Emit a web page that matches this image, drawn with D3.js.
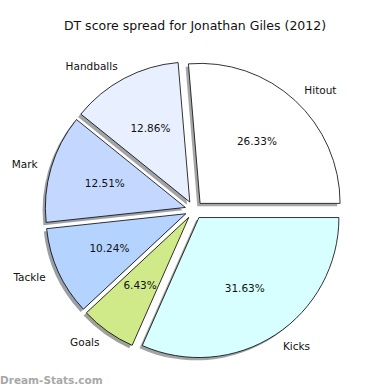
<!DOCTYPE html>
<html><head><meta charset="utf-8">
<script src="https://cdn.jsdelivr.net/npm/d3@7"></script>
<style>html,body{margin:0;padding:0;background:#fff;}svg{display:block;font-family:"DejaVu Sans",sans-serif;}</style>
</head><body>
<script>
const categories = ["Hitout","Handballs","Mark","Tackle","Goals","Kicks"];
const values = [26.33,12.86,12.51,10.24,6.43,31.63];
const colors = ["#ffffff","#e8f0ff","#c4d8ff","#b4d4ff","#d0ea8a","#d8ffff"];
const title = "DT score spread for Jonathan Giles (2012)";
const watermark = "Dream-Stats.com";

const W=390,H=390, cx=194, cy=210, R=140, explode=9;
const svg=d3.select("body").append("svg").attr("width",W).attr("height",H);
svg.append("rect").attr("width",W).attr("height",H).attr("fill","#fff");

const pie=d3.pie().sort(null).startAngle(Math.PI/2).endAngle(Math.PI/2-2*Math.PI);
const arcs=pie(values);
const arc=d3.arc().innerRadius(0).outerRadius(R);
const color=d3.scaleOrdinal().domain(categories).range(colors);

function mid(d){return (d.startAngle+d.endAngle)/2;}
function off(d,k){const a=mid(d);return [k*Math.sin(a),-k*Math.cos(a)];}

const g=svg.append("g").attr("transform",`translate(${cx},${cy})`);
// shadows
arcs.forEach((d,i)=>{
  const [ox,oy]=off(d,explode);
  const c=d3.rgb(color(categories[i]));
  g.append("path").attr("d",arc(d))
   .attr("transform",`translate(${ox-2.8},${oy+2.8})`)
   .attr("fill",d3.rgb(c.r*0.3,c.g*0.3,c.b*0.3)).attr("fill-opacity",0.5);
});
arcs.forEach((d,i)=>{
  const [ox,oy]=off(d,explode);
  g.append("path").attr("d",arc(d))
   .attr("transform",`translate(${ox},${oy})`)
   .attr("fill",color(categories[i])).attr("stroke","#000").attr("stroke-width",0.8).attr("stroke-linejoin","round");
});
arcs.forEach((d,i)=>{
  const [ox,oy]=off(d,explode);
  const [lx,ly]=off(d,1.1*R);
  g.append("text").attr("x",ox+lx).attr("y",oy+ly).attr("dy","0.35em")
   .attr("text-anchor",lx>0?"start":"end").attr("font-size",10.5).attr("fill","#111")
   .text(categories[i]);
  const [px,py]=off(d,0.6*R);
  g.append("text").attr("x",ox+px).attr("y",oy+py).attr("dy","0.35em")
   .attr("text-anchor","middle").attr("font-size",10.5).attr("fill","#111")
   .text(values[i].toFixed(2)+"%");
});
svg.append("text").attr("x",195).attr("y",30).attr("text-anchor","middle")
  .attr("font-size",12.5).attr("fill","#111").text(title);
svg.append("text").attr("x",0).attr("y",384).attr("font-size",10.5).attr("font-weight","bold")
  .attr("fill","#a8a8a8").text(watermark);
</script>
</body></html>
